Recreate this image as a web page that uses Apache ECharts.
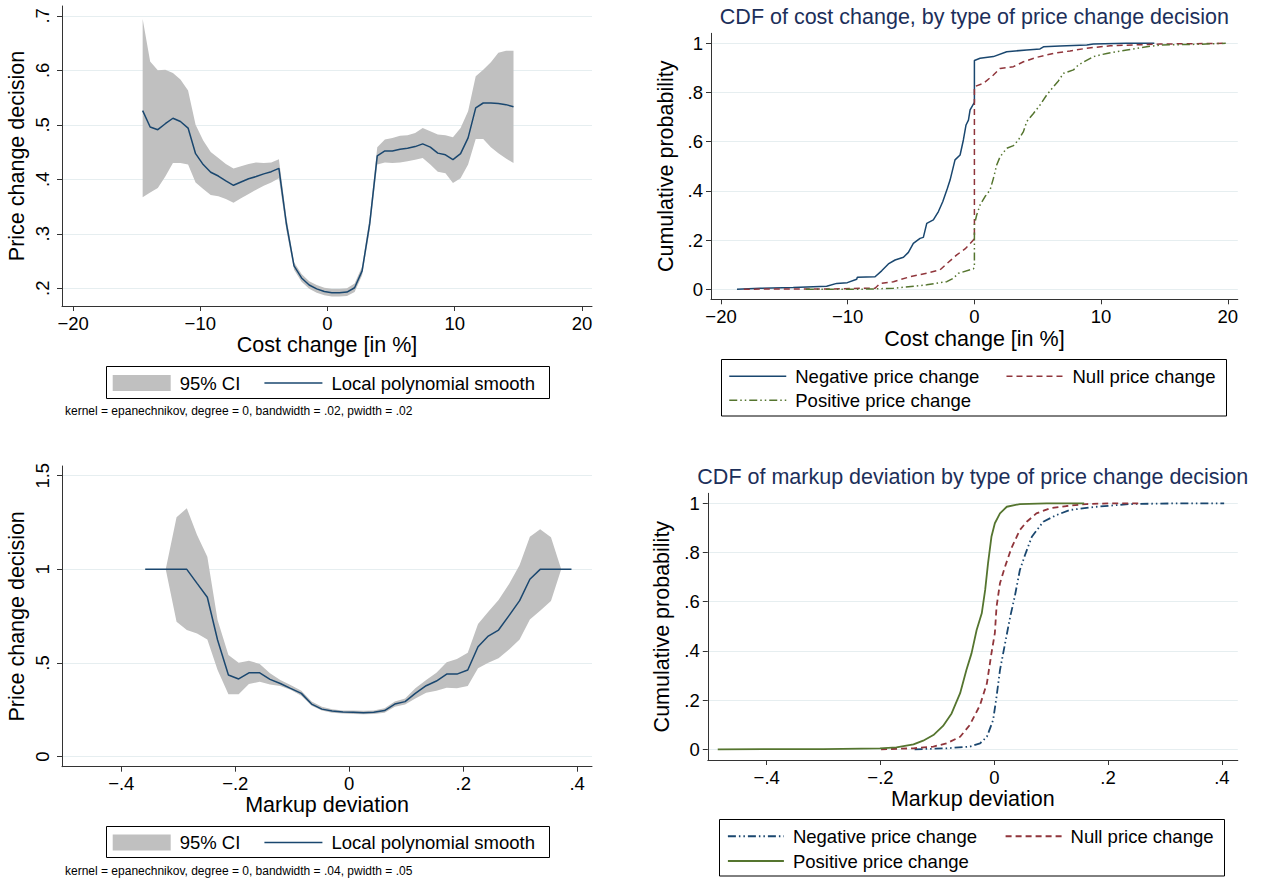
<!DOCTYPE html>
<html>
<head>
<meta charset="utf-8">
<title>Price change decision, cost change and markup deviation</title>
<script src="https://cdn.jsdelivr.net/npm/echarts@6/dist/echarts.min.js"></script>
<style>
  html, body { margin: 0; padding: 0; background: #fff; }
  #main { width: 1265px; height: 880px; }
</style>
</head>
<body>
<div id="main"></div>
<script>
// ---- lpoly: price change decision on cost change (grid points) ----
var costX = [-14.53, -13.94, -13.34, -12.75, -12.15, -11.56, -10.96, -10.37, -9.77, -9.18,
  -8.58, -7.99, -7.39, -6.80, -6.20, -5.61, -5.01, -4.42, -3.82, -3.23,
  -2.63, -2.04, -1.44, -0.85, -0.25, 0.34, 0.94, 1.53, 2.13, 2.72,
  3.32, 3.91, 4.51, 5.10, 5.70, 6.29, 6.89, 7.48, 8.08, 8.67,
  9.27, 9.86, 10.46, 11.05, 11.65, 12.24, 12.84, 13.43, 14.03, 14.62];
var costSmooth = [.526, .496, .491, .502, .512, .506, .494, .447, .427, .413,
  .406, .397, .389, .395, .401, .405, .410, .414, .420, .318,
  .241, .219, .206, .199, .194, .192, .192, .193, .201, .232,
  .319, .443, .452, .452, .455, .457, .460, .465, .459, .448,
  .445, .436, .447, .476, .531, .540, .540, .539, .537, .533];
var costLo = [.367, .376, .384, .405, .430, .430, .427, .394, .382, .371,
  .369, .364, .357, .365, .373, .381, .388, .394, .402, .306,
  .234, .212, .199, .192, .187, .185, .185, .186, .193, .224,
  .307, .427, .431, .430, .431, .433, .436, .439, .427, .414,
  .411, .393, .402, .427, .474, .474, .459, .448, .438, .430];
var costHi = [.694, .616, .600, .601, .595, .583, .563, .500, .471, .450,
  .439, .428, .420, .424, .428, .431, .430, .431, .437, .330,
  .248, .226, .213, .206, .201, .199, .199, .200, .209, .240,
  .331, .459, .473, .476, .480, .481, .485, .494, .488, .482,
  .481, .477, .494, .525, .589, .601, .615, .632, .636, .636];

// ---- lpoly: price change decision on markup deviation ----
var markX = [-0.358, -0.340, -0.322, -0.303, -0.285, -0.267, -0.249, -0.231, -0.212, -0.194,
  -0.176, -0.157, -0.139, -0.121, -0.103, -0.084, -0.066, -0.048, -0.030, -0.011,
  0.007, 0.025, 0.043, 0.062, 0.080, 0.098, 0.116, 0.135, 0.153, 0.171,
  0.189, 0.208, 0.226, 0.244, 0.262, 0.281, 0.299, 0.317, 0.335, 0.354,
  0.372, 0.390];
var markSmooth = [1, 1, 1, 1, 1, 0.925, 0.851, 0.623, 0.436, 0.415,
  0.448, 0.448, 0.413, 0.391, 0.365, 0.338, 0.281, 0.254, 0.244, 0.238,
  0.237, 0.235, 0.237, 0.246, 0.281, 0.294, 0.338, 0.379, 0.404, 0.441,
  0.441, 0.463, 0.587, 0.644, 0.676, 0.756, 0.833, 0.947, 1, 1,
  1, 1];
var markLo = [null, null, 1, 0.721, 0.676, 0.658, 0.626, 0.463, 0.333, 0.333,
  0.388, 0.400, 0.386, 0.377, 0.357, 0.326, 0.272, 0.246, 0.235, 0.230,
  0.228, 0.226, 0.228, 0.235, 0.267, 0.279, 0.311, 0.342, 0.352, 0.368,
  0.365, 0.377, 0.472, 0.502, 0.525, 0.573, 0.626, 0.733, 0.779, 0.831,
  1, null];
var markHi = [null, null, 1, 1.278, 1.326, 1.183, 1.068, 0.730, 0.543, 0.502,
  0.512, 0.495, 0.445, 0.409, 0.383, 0.352, 0.294, 0.267, 0.253, 0.247,
  0.246, 0.245, 0.247, 0.258, 0.294, 0.311, 0.365, 0.409, 0.448, 0.504,
  0.521, 0.555, 0.708, 0.774, 0.836, 0.925, 1.023, 1.174, 1.214, 1.171,
  1, null];

// ---- CDF of cost change, [cost change, cumulative probability] ----
var costCdfNeg = [[-18.74, 0], [-16.9, 0.004], [-14.3, 0.007], [-11.66, 0.012], [-10.87, 0.024],
  [-10.03, 0.027], [-9.29, 0.041], [-9.24, 0.049], [-7.84, 0.051], [-7.32, 0.075], [-6.79, 0.103],
  [-6.26, 0.119], [-5.6, 0.13], [-5.21, 0.15], [-4.82, 0.187], [-4.29, 0.207], [-4.03, 0.211],
  [-3.76, 0.268], [-3.24, 0.282], [-2.84, 0.316], [-2.5, 0.356], [-2.13, 0.411], [-1.92, 0.444],
  [-1.53, 0.526], [-1.13, 0.546], [-0.87, 0.607], [-0.66, 0.668], [-0.47, 0.688], [-0.34, 0.729],
  [-0.08, 0.753], [0, 0.76], [0, 0.93], [0.45, 0.939], [1.5, 0.946], [2.55, 0.966], [4.13, 0.973],
  [5.18, 0.977], [5.45, 0.986], [6.76, 0.989], [8.87, 0.993], [9.39, 0.997], [12.0, 1], [14.2, 1]];
var costCdfNull = [[-18.2, 0], [-16.9, 0.001], [-11.66, 0.001], [-9.0, 0.004], [-7.84, 0.004],
  [-7.45, 0.024], [-6.39, 0.031], [-5.08, 0.051], [-3.76, 0.065], [-2.71, 0.079], [-2.05, 0.11],
  [-1.39, 0.14], [-0.74, 0.164], [-0.08, 0.2], [0, 0.207], [0, 0.824], [0.71, 0.837], [1.5, 0.871],
  [2.03, 0.898], [3.08, 0.905], [3.87, 0.925], [4.92, 0.943], [6.24, 0.959], [7.55, 0.969],
  [8.87, 0.98], [10.71, 0.99], [14.66, 0.997], [19.8, 1]];
var costCdfPos = [[-13.3, 0], [-9.0, 0], [-6.39, 0.004], [-3.76, 0.018], [-2.18, 0.031],
  [-1.66, 0.045], [-1.26, 0.065], [-0.08, 0.083], [0, 0.09], [0, 0.262], [0.18, 0.302],
  [0.45, 0.343], [0.84, 0.377], [1.24, 0.404], [1.5, 0.451], [1.76, 0.505], [2.03, 0.539],
  [2.55, 0.573], [3.08, 0.584], [3.47, 0.607], [3.87, 0.641], [4.13, 0.682], [4.66, 0.715],
  [5.18, 0.749], [5.71, 0.79], [6.24, 0.824], [6.63, 0.847], [7.03, 0.878], [7.82, 0.892],
  [8.21, 0.912], [9.39, 0.946], [10.45, 0.959], [12.03, 0.973], [13.6, 0.986], [14.66, 0.993],
  [17.6, 0.996], [19.84, 1]];

// ---- CDF of markup deviation ----
var markCdfNeg = [[-0.14, 0], [-0.084, 0.004], [-0.043, 0.011], [-0.025, 0.024], [-0.013, 0.051],
  [-0.002, 0.119], [0.004, 0.214], [0.01, 0.322], [0.019, 0.431], [0.028, 0.539], [0.036, 0.621],
  [0.045, 0.729], [0.054, 0.79], [0.066, 0.864], [0.086, 0.925], [0.11, 0.953], [0.133, 0.973],
  [0.18, 0.986], [0.238, 0.997], [0.326, 1], [0.404, 1]];
var markCdfNull = [[-0.199, 0], [-0.142, 0.004], [-0.107, 0.011], [-0.084, 0.024], [-0.06, 0.051],
  [-0.043, 0.099], [-0.025, 0.18], [-0.013, 0.268], [-0.005, 0.39], [0.001, 0.472], [0.004, 0.58],
  [0.01, 0.675], [0.019, 0.743], [0.03, 0.817], [0.045, 0.892], [0.057, 0.925], [0.074, 0.959],
  [0.098, 0.98], [0.127, 0.989], [0.162, 0.997], [0.209, 1], [0.253, 1]];
var markCdfPos = [[-0.486, 0], [-0.3, 0.001], [-0.201, 0.004], [-0.172, 0.008], [-0.142, 0.02],
  [-0.125, 0.035], [-0.107, 0.058], [-0.09, 0.095], [-0.075, 0.146], [-0.06, 0.228], [-0.049, 0.322],
  [-0.04, 0.39], [-0.031, 0.485], [-0.022, 0.553], [-0.016, 0.648], [-0.011, 0.756], [-0.005, 0.864],
  [0.001, 0.919], [0.01, 0.959], [0.022, 0.986], [0.045, 0.997], [0.092, 1], [0.158, 1]];

// tick labels
var costTicks = [-20, -10, 0, 10, 20];
var costDecTicks = [0.2, 0.3, 0.4, 0.5, 0.6, 0.7];
var markTicks = [-0.4, -0.2, 0, 0.2, 0.4];
var markDecTicks = [0, 0.5, 1, 1.5];
var probTicks = [0, 0.2, 0.4, 0.6, 0.8, 1];

var FONT = '"Liberation Sans", Arial, Helvetica, sans-serif';
var NAVY = '#1a476f', MAROON = '#90353b', GREEN = '#55752f', CI_GRAY = '#c0c0c0';
var AXIS_COLOR = '#333', GRID_COLOR = '#e6eef0', TITLE_COLOR = '#1c2f5a';
var DASH = [6, 4];
var DASH_DOT_DOT = [8, 3, 1.5, 3, 1.5, 3];

// Stata style numbers: .5 instead of 0.5, real minus sign
function stataNum(v) {
  var s = String(Math.round(v * 1000) / 1000).replace(/^(-?)0\./, '$1.');
  return s.charAt(0) === '-' ? '\u2212' + s.slice(1) : s;
}

function xAxisFor(grid, min, max, ticks, name, gap) {
  return {
    type: 'value', gridIndex: grid, min: min, max: max,
    name: name, nameLocation: 'middle', nameGap: gap,
    nameTextStyle: { fontFamily: FONT, fontSize: 21.5, color: '#000' },
    axisLine: { show: true, onZero: false, lineStyle: { color: AXIS_COLOR, width: 1 } },
    axisTick: { show: true, customValues: ticks, length: 5, lineStyle: { color: AXIS_COLOR } },
    axisLabel: { customValues: ticks, formatter: stataNum, margin: 7.5,
      fontFamily: FONT, fontSize: 18.5, color: '#000' },
    splitLine: { show: false }
  };
}

function yAxisFor(grid, min, max, ticks, name, gap, vertical) {
  return {
    type: 'value', gridIndex: grid, min: min, max: max,
    name: name, nameLocation: 'middle', nameGap: gap,
    nameTextStyle: { fontFamily: FONT, fontSize: 21.5, color: '#000' },
    axisLine: { show: true, onZero: false, lineStyle: { color: AXIS_COLOR, width: 1 } },
    axisTick: { show: true, customValues: ticks, length: 5, lineStyle: { color: AXIS_COLOR } },
    axisLabel: { customValues: ticks, formatter: stataNum, rotate: vertical ? 90 : 0,
      margin: vertical ? 10 : 8, fontFamily: FONT, fontSize: 18.5, color: '#000' },
    splitLine: { show: true, lineStyle: { color: GRID_COLOR, width: 1 } }
  };
}

// shaded 95% CI drawn as one polygon through the upper and lower bounds
function ciBand(idx, xs, lo, hi) {
  return {
    type: 'custom', name: '95% CI', xAxisIndex: idx, yAxisIndex: idx,
    itemStyle: { color: CI_GRAY }, z: 1,
    data: xs.map(function (x, i) { return [x, lo[i], hi[i]]; }),
    encode: { x: 0, y: [1, 2] },
    renderItem: function (params, api) {
      if (params.dataIndex !== 0) return null;
      var upper = [], lower = [];
      for (var i = 0; i < xs.length; i++) {
        if (lo[i] == null) continue;
        upper.push(api.coord([xs[i], hi[i]]));
        lower.unshift(api.coord([xs[i], lo[i]]));
      }
      return { type: 'polygon', shape: { points: upper.concat(lower) }, style: { fill: CI_GRAY } };
    }
  };
}

function lineSeries(idx, name, data, color, width, type) {
  return {
    type: 'line', name: name, xAxisIndex: idx, yAxisIndex: idx, data: data,
    symbol: 'none', z: 3,
    lineStyle: { color: color, width: width, type: type },
    itemStyle: { color: color }
  };
}

function pairs(xs, ys) {
  return xs.map(function (x, i) { return [x, ys[i]]; });
}

// legend entry showing only a line (no marker)
function lineKey(name, color, width, type) {
  return { name: name, itemStyle: { opacity: 0 }, lineStyle: { color: color, width: width, type: type } };
}

var legendText = { fontFamily: FONT, fontSize: 18.5, color: '#000', padding: [0, 0, 0, 4] };

function legendFor(left, top, gap, width, items) {
  return {
    left: left, top: top, padding: 0, itemGap: gap, itemWidth: width, itemHeight: 16,
    orient: 'horizontal', textStyle: legendText, data: items
  };
}

function boxRect(x, y, w, h) {
  return { type: 'rect', shape: { x: x, y: y, width: w, height: h },
    style: { fill: 'none', stroke: '#000', lineWidth: 1 }, z: 10 };
}

var myChart = echarts.init(document.getElementById('main'), null, { renderer: 'svg' });

myChart.setOption({
  animation: false,
  backgroundColor: '#fff',
  textStyle: { fontFamily: FONT },
  title: [
    { text: 'CDF of cost change, by type of price change decision', left: 974.4, top: 5.5,
      textAlign: 'center', padding: 0,
      textStyle: { fontFamily: FONT, fontSize: 21.5, fontWeight: 'normal', color: TITLE_COLOR } },
    { text: 'CDF of markup deviation by type of price change decision', left: 972.8, top: 465.5,
      textAlign: 'center', padding: 0,
      textStyle: { fontFamily: FONT, fontSize: 21.5, fontWeight: 'normal', color: TITLE_COLOR } },
    { text: 'kernel = epanechnikov, degree = 0, bandwidth = .02, pwidth = .02', left: 65, top: 405,
      padding: 0, textStyle: { fontFamily: FONT, fontSize: 12, fontWeight: 'normal', color: '#000' } },
    { text: 'kernel = epanechnikov, degree = 0, bandwidth = .04, pwidth = .05', left: 65, top: 865,
      padding: 0, textStyle: { fontFamily: FONT, fontSize: 12, fontWeight: 'normal', color: '#000' } }
  ],
  grid: [
    { left: 62, top: 6, width: 530, height: 300 },
    { left: 711, top: 33.3, width: 526.8, height: 266 },
    { left: 62, top: 466, width: 530, height: 300.7 },
    { left: 707.8, top: 493.3, width: 530, height: 266.7 }
  ],
  xAxis: [
    xAxisFor(0, -20.87, 20.79, costTicks, 'Cost change [in %]', 28.25),
    xAxisFor(1, -20.79, 20.79, costTicks, 'Cost change [in %]', 28.25),
    xAxisFor(2, -0.504, 0.426, markTicks, 'Markup deviation', 27.5),
    xAxisFor(3, -0.5035, 0.428, markTicks, 'Markup deviation', 27.5)
  ],
  yAxis: [
    yAxisFor(0, 0.1675, 0.718, costDecTicks, 'Price change decision', 34, true),
    yAxisFor(1, -0.0407, 1.0407, probTicks, 'Cumulative probability', 34.5, false),
    yAxisFor(2, -0.0534, 1.5518, markDecTicks, 'Price change decision', 34, true),
    yAxisFor(3, -0.0435, 1.0407, probTicks, 'Cumulative probability', 34.5, false)
  ],
  legend: [
    legendFor(112.7, 373.5, 23.3, 58, [{ name: '95% CI', icon: 'rect' },
      lineKey('Local polynomial smooth', NAVY, 1.5, 'solid')]),
    legendFor(112.7, 833, 23.3, 58, [{ name: '95% CI', icon: 'rect' },
      lineKey('Local polynomial smooth', NAVY, 1.5, 'solid')]),
    legendFor(728.5, 366.75, 26.4, 57, [
      lineKey('Negative price change', NAVY, 1.5, 'solid'),
      lineKey('Null price change', MAROON, 1.5, DASH)
    ]),
    legendFor(728.5, 390.75, 26.4, 57, [
      lineKey('Positive price change', GREEN, 1.5, DASH_DOT_DOT)
    ]),
    legendFor(727, 826.75, 27.7, 56, [
      lineKey('Negative price change', NAVY, 1.8, DASH_DOT_DOT),
      lineKey('Null price change', MAROON, 1.8, DASH)
    ]),
    legendFor(727, 851.5, 27.7, 56, [
      lineKey('Positive price change', GREEN, 1.8, 'solid')
    ])
  ],
  graphic: [
    boxRect(106.5, 366.5, 443, 32),
    boxRect(106.5, 826.5, 443, 31),
    boxRect(721.5, 359.5, 505, 56.5),
    boxRect(719.5, 819.5, 505, 56.5)
  ],
  series: [
    ciBand(0, costX, costLo, costHi),
    lineSeries(0, 'Local polynomial smooth', pairs(costX, costSmooth), NAVY, 1.5, 'solid'),

    lineSeries(1, 'Negative price change', costCdfNeg, NAVY, 1.5, 'solid'),
    lineSeries(1, 'Null price change', costCdfNull, MAROON, 1.5, DASH),
    lineSeries(1, 'Positive price change', costCdfPos, GREEN, 1.5, DASH_DOT_DOT),

    ciBand(2, markX, markLo, markHi),
    lineSeries(2, 'Local polynomial smooth', pairs(markX, markSmooth), NAVY, 1.5, 'solid'),

    lineSeries(3, 'Negative price change', markCdfNeg, NAVY, 1.8, DASH_DOT_DOT),
    lineSeries(3, 'Null price change', markCdfNull, MAROON, 1.8, DASH),
    lineSeries(3, 'Positive price change', markCdfPos, GREEN, 1.8, 'solid')
  ]
});
</script>
</body>
</html>
